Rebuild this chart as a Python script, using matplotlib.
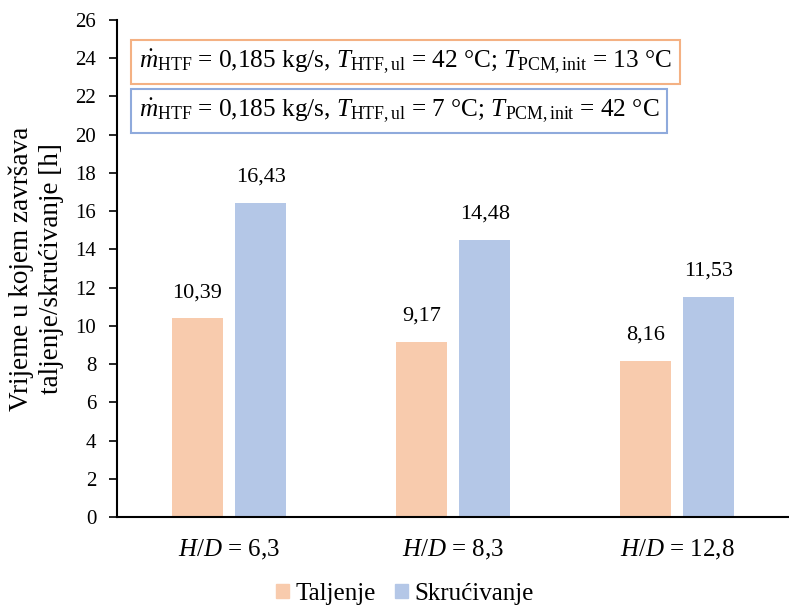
import numpy as np
import matplotlib
matplotlib.use("Agg")
import matplotlib.pyplot as plt
from matplotlib.patches import Patch

plt.rcParams["font.family"] = ["Liberation Serif", "DejaVu Serif"]
plt.rcParams["mathtext.fontset"] = "custom"
plt.rcParams["mathtext.rm"] = "Liberation Serif"
plt.rcParams["mathtext.it"] = "Liberation Serif:italic"
plt.rcParams["mathtext.bf"] = "Liberation Serif:bold"

# data
categories = ["$H$/$D$ = 6,3", "$H$/$D$ = 8,3", "$H$/$D$ = 12,8"]
taljenje = [10.39, 9.17, 8.16]
skrucivanje = [16.43, 14.48, 11.53]
series_names = ["Taljenje", "Skrućivanje"]

c_melt = "#F8CBAD"
c_solid = "#B4C7E7"

fig = plt.figure(figsize=(7.89, 6.08), dpi=100)
ax = fig.add_axes([117 / 789, 1 - 517 / 608, 672 / 789, 497 / 608])

x = np.arange(len(categories))
w = 0.227
off = 0.142
b1 = ax.bar(x - off, taljenje, w, color=c_melt)
b2 = ax.bar(x + off, skrucivanje, w, color=c_solid)

for bars, vals in ((b1, taljenje), (b2, skrucivanje)):
    for b, v in zip(bars, vals):
        ax.text(b.get_x() + b.get_width() / 2, v + 0.85, f"{v:.2f}".replace(".", ","),
                ha="center", va="bottom", fontsize=16)

ax.set_xlim(-0.5, 2.5)
ax.set_ylim(0, 26)
ax.set_yticks(range(0, 27, 2))
ax.set_xticks(x)
ax.set_xticklabels(categories, fontsize=18)
ax.tick_params(axis="y", labelsize=15, direction="out", length=6, width=1.2, pad=9)
ax.tick_params(axis="x", length=0, pad=15)
for s in ("top", "right"):
    ax.spines[s].set_visible(False)
ax.spines["left"].set_linewidth(1.5)
ax.spines["bottom"].set_linewidth(1.5)

ax.set_ylabel("Vrijeme u kojem završava\ntaljenje/skrućivanje [h]", fontsize=19.5, labelpad=8,
              linespacing=1.25)

box_melt = r"$\dot{m}_{\mathrm{HTF}}$ = 0,185 kg/s, $T_{\mathrm{HTF,ul}}$ = 42 °C; $T_{\mathrm{PCM,init}}$ = 13 °C"
box_solid = r"$\dot{m}_{\mathrm{HTF}}$ = 0,185 kg/s, $T_{\mathrm{HTF,ul}}$ = 7 °C; $T_{\mathrm{PCM,init}}$ = 42 °C"
fig.text(139 / 789, 1 - 62 / 608, box_melt, fontsize=18.2, va="center", ha="left",
         bbox=dict(boxstyle="square,pad=0.3", fc="white", ec="#F4B183", lw=1.5))
fig.text(139 / 789, 1 - 111 / 608, box_solid, fontsize=18.2, va="center", ha="left",
         bbox=dict(boxstyle="square,pad=0.3", fc="white", ec="#8FAADC", lw=1.5))

handles = [Patch(color=c_melt), Patch(color=c_solid)]
fig.legend(handles, series_names, loc="center", bbox_to_anchor=(405 / 789, 1 - 594 / 608),
           ncol=2, frameon=False, fontsize=18, handlelength=0.5, handleheight=0.5,
           handletextpad=0.25, columnspacing=0.8)

fig.savefig("out.png", dpi=100)
